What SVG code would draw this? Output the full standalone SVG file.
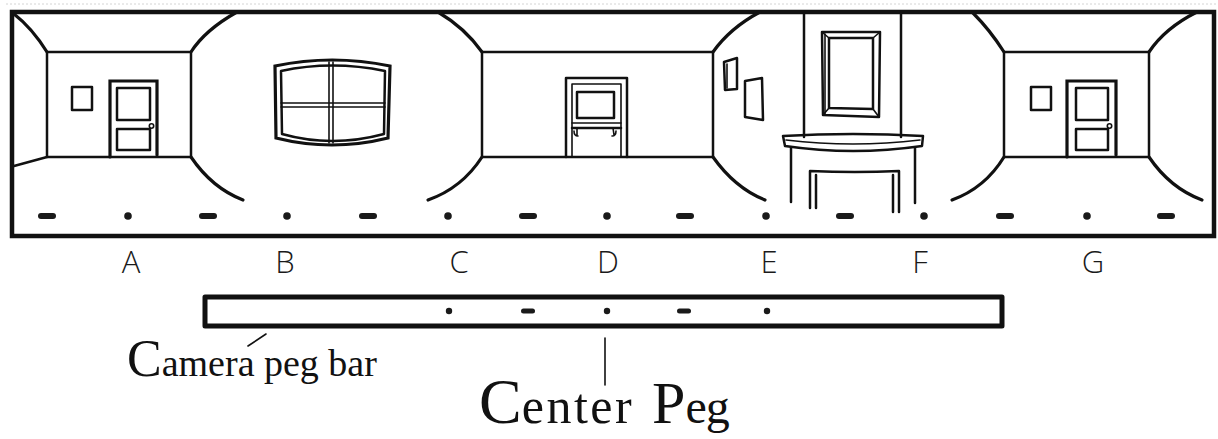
<svg xmlns="http://www.w3.org/2000/svg" width="1218" height="439" viewBox="0 0 1218 439">
  <defs>
    <style>
      .ln { fill: none; stroke: #111; stroke-width: 2.5; stroke-linecap: round; stroke-linejoin: round; }
      .th { fill: none; stroke: #111; stroke-width: 3.2; stroke-linecap: round; }
      .tn { fill: none; stroke: #111; stroke-width: 1.6; stroke-linecap: round; stroke-linejoin: round; }
      .peg { fill: #1a1a1a; }
      .lbl { font-family: "Open Sans", "Liberation Sans", sans-serif; font-weight: 300; font-size: 31px; fill: #1a1a1a; text-anchor: middle; }
      .cap { font-family: "Liberation Serif", "DejaVu Serif", serif; fill: #111; }
    </style>
  </defs>

  <rect x="0" y="0" width="1218" height="439" fill="#fff"/>

  <!-- panorama background frame -->
  <g id="frame">
    <line x1="6" y1="4" x2="1216" y2="4" stroke="#d4d4d4" stroke-width="1" stroke-dasharray="2 2"/>
    <rect x="12" y="12" width="1202" height="224" fill="none" stroke="#111" stroke-width="4.5"/>
  </g>

  <!-- room at field A -->
  <g id="room-a">
    <rect class="ln" x="47" y="52" width="144" height="105"/>
    <path class="th" d="M14,14 Q32,28 47,52"/>
    <path class="th" d="M191,52 Q205,30 237,12"/>
    <path class="ln" d="M47,157 L14,166"/>
    <path class="th" d="M191,157 Q212,188 243,200"/>
    <rect class="ln" x="72" y="87" width="20" height="23"/>
    <path class="th" d="M110,157 L110,81 L157,81 L157,155"/>
    <rect class="ln" x="117" y="88" width="33" height="32"/>
    <rect class="ln" x="117" y="129" width="33" height="21"/>
    <circle class="tn" cx="151.5" cy="126" r="2.2"/>
  </g>

  <!-- window wall at field B -->
  <g id="room-b">
    <path class="th" d="M275,66 Q332,54 390,66 L388,138 Q332,152 276,138 Z"/>
    <path class="ln" d="M281,71 Q332,60 385,71 L384,134 Q332,148 282,134 Z"/>
    <line class="tn" x1="329" y1="62" x2="329" y2="143"/>
    <line class="tn" x1="333" y1="62" x2="333" y2="143"/>
    <line class="tn" x1="281" y1="103" x2="385" y2="103"/>
    <line class="tn" x1="281" y1="107" x2="385" y2="107"/>
  </g>

  <!-- room at field C with cabinet -->
  <g id="room-c">
    <rect class="ln" x="482" y="52" width="231" height="105"/>
    <path class="th" d="M438,12 Q465,28 482,52"/>
    <path class="th" d="M713,52 Q730,28 760,12"/>
    <path class="th" d="M482,157 Q462,188 428,200"/>
    <path class="th" d="M713,157 Q735,188 765,200"/>
    <path class="ln" d="M566,157 L566,78 L627,78 L627,157"/>
    <path class="tn" d="M572,157 L572,84 L621,84 L621,157"/>
    <rect class="ln" x="577" y="92" width="37" height="26"/>
    <line class="tn" x1="572" y1="123" x2="621" y2="123"/>
    <line class="ln" x1="572" y1="128" x2="621" y2="128"/>
    <path class="tn" d="M577,128 L577,135 M574,131 Q574,136 578,136"/>
    <path class="tn" d="M613,128 L614,135 M616,131 Q616,136 612,136"/>
  </g>

  <!-- fireplace wall between fields D and F -->
  <g id="room-d">
    <path class="ln" d="M724,62 L737,58 L737,89 L725,90 Z"/>
    <path class="tn" d="M727,64 L727,88"/>
    <path class="ln" d="M745,81 L762,78 L763,120 L745,117 Z"/>
    <line class="ln" x1="804" y1="13" x2="804" y2="137"/>
    <line class="ln" x1="901" y1="13" x2="901" y2="137"/>
    <path class="ln" d="M822,32 L880,32 L879,117 L823,115 Z"/>
    <path class="tn" d="M825,34 L825,114"/>
    <path class="ln" d="M829,38 L873,38 L873,109 L829,108 Z"/>
    <path class="tn" d="M822,32 L829,38 M880,32 L873,38 M879,117 L873,109 M823,115 L829,108"/>
    <path class="ln" d="M783,136 Q853,132 923,136 L922,146 Q853,156 785,146 Z"/>
    <path class="tn" d="M786,140 Q853,148 920,140"/>
    <line class="ln" x1="791" y1="148" x2="791" y2="202"/>
    <line class="ln" x1="915" y1="148" x2="915" y2="203"/>
    <path class="ln" d="M810,208 L810,171 Q855,173 899,171 L899,212"/>
    <line class="ln" x1="816" y1="175" x2="816" y2="208"/>
    <line class="ln" x1="893" y1="175" x2="893" y2="212"/>
  </g>

  <!-- room at field G -->
  <g id="room-g">
    <rect class="ln" x="1004" y="52" width="145" height="105"/>
    <path class="th" d="M973,13 Q990,30 1004,52"/>
    <path class="th" d="M1149,52 Q1165,28 1197,12"/>
    <path class="th" d="M1004,157 Q985,188 952,200"/>
    <path class="th" d="M1149,157 Q1170,188 1202,200"/>
    <rect class="ln" x="1031" y="87" width="20" height="23"/>
    <path class="th" d="M1067,157 L1067,81 L1116,81 L1116,155"/>
    <rect class="ln" x="1076" y="88" width="32" height="32"/>
    <rect class="ln" x="1076" y="129" width="32" height="21"/>
    <circle class="tn" cx="1109.5" cy="126" r="2.2"/>
  </g>

  <!-- peg row along the bottom of the panorama -->
  <g id="pan-pegs">
    <rect class="peg" x="38" y="213" width="18" height="6" rx="3"/>
    <circle class="peg" cx="128" cy="216" r="3.8"/>
    <rect class="peg" x="199" y="213" width="18" height="6" rx="3"/>
    <circle class="peg" cx="287" cy="216" r="3.8"/>
    <rect class="peg" x="359" y="213" width="18" height="6" rx="3"/>
    <circle class="peg" cx="448" cy="216" r="3.8"/>
    <rect class="peg" x="519" y="213" width="18" height="6" rx="3"/>
    <circle class="peg" cx="607" cy="216" r="3.8"/>
    <rect class="peg" x="676" y="213" width="18" height="6" rx="3"/>
    <circle class="peg" cx="766" cy="216" r="3.8"/>
    <rect class="peg" x="836" y="213" width="18" height="6" rx="3"/>
    <circle class="peg" cx="924" cy="216" r="3.8"/>
    <rect class="peg" x="996" y="213" width="18" height="6" rx="3"/>
    <circle class="peg" cx="1087" cy="216" r="3.8"/>
    <rect class="peg" x="1157" y="213" width="18" height="6" rx="3"/>
  </g>

  <!-- field letters -->
  <g id="field-labels">
    <text class="lbl" x="131" y="273">A</text>
    <text class="lbl" x="285" y="273">B</text>
    <text class="lbl" x="459" y="273">C</text>
    <text class="lbl" x="608" y="273">D</text>
    <text class="lbl" x="769" y="273">E</text>
    <text class="lbl" x="920" y="273">F</text>
    <text class="lbl" x="1093" y="273">G</text>
  </g>

  <!-- camera peg bar -->
  <g id="peg-bar">
    <rect x="205" y="297" width="797" height="29" fill="none" stroke="#111" stroke-width="5" stroke-linejoin="round"/>
    <circle class="peg" cx="449" cy="311" r="3.2"/>
    <rect class="peg" x="521" y="308.5" width="14" height="5" rx="2.5"/>
    <circle class="peg" cx="607" cy="311" r="3.2"/>
    <rect class="peg" x="677" y="308.5" width="14" height="5" rx="2.5"/>
    <circle class="peg" cx="767" cy="311" r="3.2"/>
  </g>

  <!-- leader lines -->
  <g id="connectors">
    <line class="tn" x1="248" y1="346" x2="266" y2="334"/>
    <line class="tn" x1="605" y1="338" x2="605" y2="385"/>
  </g>

  <g id="label-camera">
    <text class="cap" x="127" y="376"><tspan font-size="52">C</tspan><tspan font-size="38">amera peg bar</tspan></text>
  </g>

  <g id="label-center">
    <text class="cap" y="423"><tspan x="479" font-size="64">C</tspan><tspan font-size="50" letter-spacing="2.5">enter</tspan><tspan x="652" font-size="60">P</tspan><tspan font-size="48" letter-spacing="-1">eg</tspan></text>
  </g>
</svg>
